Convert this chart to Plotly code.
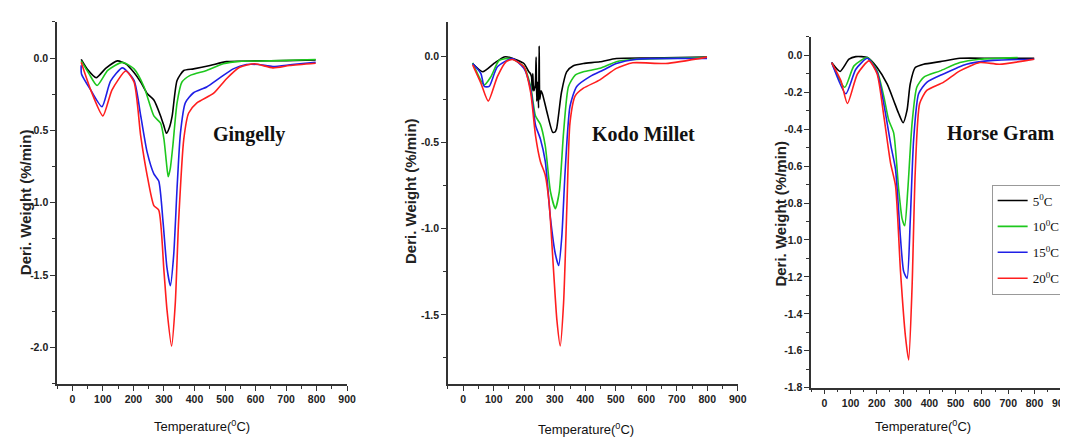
import plotly.graph_objects as go

W, H = 1068, 437

# ---------------- DATA ----------------
series_names = ["5<sup>0</sup>C", "10<sup>0</sup>C", "15<sup>0</sup>C", "20<sup>0</sup>C"]
series_colors = ["#000000", "#1ec81e", "#1f1fe6", "#ff1e1e"]

# Gingelly
g_t_5 = [29, 50, 78, 110, 148, 175, 202, 225, 245, 267, 289, 300, 308, 318, 327, 343, 365, 397, 451, 505, 600, 700, 797]
g_v_5 = [-0.01, -0.08, -0.136, -0.07, -0.02, -0.04, -0.10, -0.17, -0.245, -0.29, -0.40, -0.47, -0.52, -0.48, -0.40, -0.155, -0.086, -0.075, -0.052, -0.025, -0.02, -0.018, -0.014]
g_t_10 = [29, 55, 81, 116, 164, 202, 235, 267, 289, 300, 308, 314, 321, 329, 343, 359, 386, 440, 494, 548, 650, 797]
g_v_10 = [-0.02, -0.11, -0.19, -0.086, -0.03, -0.075, -0.20, -0.40, -0.45, -0.56, -0.72, -0.82, -0.76, -0.61, -0.31, -0.166, -0.12, -0.086, -0.04, -0.023, -0.02, -0.01]
g_t_15 = [29, 30, 60, 97, 125, 164, 202, 224, 245, 267, 283, 297, 310, 321, 332, 343, 354, 370, 397, 440, 484, 527, 570, 610, 657, 720, 797]
g_v_15 = [-0.05, -0.11, -0.22, -0.336, -0.16, -0.068, -0.155, -0.40, -0.65, -0.80, -0.85, -1.13, -1.45, -1.573, -1.36, -0.90, -0.52, -0.31, -0.24, -0.20, -0.136, -0.075, -0.045, -0.045, -0.059, -0.045, -0.03]
g_t_20 = [29, 60, 100, 130, 175, 202, 224, 245, 267, 283, 300, 310, 325, 337, 348, 365, 381, 408, 462, 505, 548, 597, 657, 711, 797]
g_v_20 = [-0.03, -0.22, -0.40, -0.22, -0.09, -0.166, -0.54, -0.81, -1.02, -1.05, -1.47, -1.74, -1.99, -1.70, -1.13, -0.56, -0.38, -0.31, -0.245, -0.143, -0.064, -0.04, -0.068, -0.052, -0.036]

# Kodo Millet
k_t_5 = [31, 64, 102, 134, 156, 199, 215, 220, 224, 226, 228, 231, 236, 239, 241, 244, 247, 249, 251, 255, 260, 274, 293, 300, 306, 322, 339, 361, 394, 448, 502, 610, 799]
k_v_5 = [-0.042, -0.09, -0.04, -0.004, -0.008, -0.042, -0.09, -0.10, -0.12, -0.20, -0.10, -0.20, -0.17, -0.005, -0.26, -0.15, -0.30, 0.06, -0.25, -0.20, -0.22, -0.32, -0.44, -0.44, -0.42, -0.21, -0.09, -0.055, -0.042, -0.032, -0.013, -0.01, -0.004]
k_t_10 = [31, 69, 91, 118, 156, 199, 221, 237, 253, 269, 286, 302, 315, 329, 345, 367, 394, 448, 502, 556, 799]
k_v_10 = [-0.038, -0.166, -0.118, -0.023, -0.013, -0.061, -0.175, -0.347, -0.395, -0.52, -0.785, -0.884, -0.785, -0.44, -0.175, -0.109, -0.09, -0.07, -0.032, -0.019, -0.008]
k_t_15 = [31, 58, 69, 85, 112, 161, 199, 221, 237, 253, 269, 286, 302, 313, 323, 334, 350, 372, 415, 459, 502, 567, 799]
k_v_15 = [-0.042, -0.10, -0.175, -0.175, -0.061, -0.013, -0.07, -0.19, -0.40, -0.48, -0.61, -0.94, -1.147, -1.214, -1.05, -0.67, -0.29, -0.175, -0.118, -0.08, -0.042, -0.017, -0.013]
k_t_20 = [31, 58, 82, 112, 140, 161, 199, 221, 237, 253, 269, 282, 296, 307, 318, 329, 340, 350, 367, 394, 448, 502, 556, 664, 799]
k_v_20 = [-0.05, -0.156, -0.26, -0.118, -0.032, -0.019, -0.061, -0.21, -0.46, -0.61, -0.69, -0.86, -1.24, -1.53, -1.68, -1.43, -0.86, -0.385, -0.23, -0.185, -0.137, -0.07, -0.038, -0.042, -0.005]

# Horse Gram
h_t_5 = [28, 60, 94, 120, 164, 201, 239, 264, 283, 300, 315, 327, 346, 378, 441, 516, 642, 799]
h_v_5 = [-0.039, -0.087, -0.021, -0.007, -0.012, -0.066, -0.155, -0.244, -0.315, -0.365, -0.297, -0.155, -0.066, -0.048, -0.034, -0.016, -0.016, -0.016]
h_t_10 = [28, 78, 113, 164, 201, 227, 245, 264, 283, 296, 306, 318, 334, 352, 378, 441, 516, 592, 736]
h_v_10 = [-0.039, -0.173, -0.057, -0.012, -0.084, -0.226, -0.35, -0.42, -0.724, -0.884, -0.923, -0.724, -0.368, -0.173, -0.119, -0.084, -0.039, -0.021, -0.012]
h_t_15 = [28, 82, 120, 164, 201, 233, 254, 271, 290, 302, 315, 327, 340, 359, 390, 453, 541, 642, 799]
h_v_15 = [-0.039, -0.208, -0.075, -0.016, -0.092, -0.315, -0.493, -0.617, -0.99, -1.17, -1.208, -0.90, -0.457, -0.208, -0.146, -0.101, -0.048, -0.027, -0.021]
h_t_20 = [28, 63, 88, 126, 170, 201, 227, 252, 271, 290, 309, 321, 334, 346, 363, 390, 453, 516, 592, 667, 799]
h_v_20 = [-0.039, -0.137, -0.261, -0.101, -0.03, -0.101, -0.333, -0.582, -0.706, -1.17, -1.524, -1.649, -1.257, -0.635, -0.261, -0.19, -0.146, -0.084, -0.039, -0.048, -0.021]

panel_titles = ["Gingelly", "Kodo Millet", "Horse Gram"]
x_ticks = [0, 100, 200, 300, 400, 500, 600, 700, 800, 900]
x_tick_labels = ["0", "100", "200", "300", "400", "500", "600", "700", "800", "900"]
y_ticks_g = [0.0, -0.5, -1.0, -1.5, -2.0]
y_labels_g = ["0.0", "-0.5", "-1.0", "-1.5", "-2.0"]
y_ticks_k = [0.0, -0.5, -1.0, -1.5]
y_labels_k = ["0.0", "-0.5", "-1.0", "-1.5"]
y_ticks_h = [0.0, -0.2, -0.4, -0.6, -0.8, -1.0, -1.2, -1.4, -1.6, -1.8]
y_labels_h = ["0.0", "-0.2", "-0.4", "-0.6", "-0.8", "-1.0", "-1.2", "-1.4", "-1.6", "-1.8"]
y_title = "Deri. Weight (%/min)"
x_title = "Temperature(<sup>0</sup>C)"

panels = [
    [(g_t_5, g_v_5), (g_t_10, g_v_10), (g_t_15, g_v_15), (g_t_20, g_v_20)],
    [(k_t_5, k_v_5), (k_t_10, k_v_10), (k_t_15, k_v_15), (k_t_20, k_v_20)],
    [(h_t_5, h_v_5), (h_t_10, h_v_10), (h_t_15, h_v_15), (h_t_20, h_v_20)],
]

# ---------------- LAYOUT ----------------
def px_x(p):
    return p / W

def px_y(p):
    return 1 - p / H

x_domains = [[px_x(49.5), px_x(342)], [px_x(443.7), px_x(736)], [px_x(810), px_x(1061.7)]]
y_domains = [[px_y(381), px_y(14)], [px_y(381), px_y(14)], [px_y(385), px_y(29.3)]]
x_ranges = [[-50, 900], [-50, 900], [-50, 900]]
y_ranges = [[-2.25, 0.25], [-1.9, 0.2], [-1.8, 0.1]]
y_tick_sets = [(y_ticks_g, y_labels_g), (y_ticks_k, y_labels_k), (y_ticks_h, y_labels_h)]
y_minor = [0.25, 0.25, 0.1]

SANS = "Liberation Sans, Arial, sans-serif"
SERIF = "Liberation Serif, Times New Roman, serif"

fig = go.Figure()

tick_font = dict(family=SANS, size=10.5, color="#222222", weight="bold")

for i, panel in enumerate(panels):
    xa = "x" if i == 0 else f"x{i+1}"
    ya = "y" if i == 0 else f"y{i+1}"
    for j, (t, v) in enumerate(panel):
        fig.add_trace(go.Scatter(
            x=t, y=v, mode="lines", xaxis=xa, yaxis=ya,
            line=dict(color=series_colors[j], width=1.6, shape="spline", smoothing=0.6),
            name=series_names[j], legendgroup=f"g{j}",
            showlegend=(i == 2), hoverinfo="skip"))

    axis_common = dict(showline=True, linecolor="#333333", linewidth=1.5, showgrid=False,
                       zeroline=False, ticks="outside", ticklen=5, tickwidth=1.2,
                       tickcolor="#333333", tickfont=tick_font)
    xkey = "xaxis" if i == 0 else f"xaxis{i+1}"
    ykey = "yaxis" if i == 0 else f"yaxis{i+1}"
    yt, yl = y_tick_sets[i]
    fig.update_layout(**{
        xkey: dict(domain=x_domains[i], range=x_ranges[i], anchor=ya,
                   tickvals=x_ticks, ticktext=x_tick_labels,
                   minor=dict(dtick=50, tick0=0, ticks="outside", ticklen=3, tickcolor="#333333"),
                   **axis_common),
        ykey: dict(domain=y_domains[i], range=y_ranges[i], anchor=xa,
                   tickvals=yt, ticktext=yl,
                   minor=dict(dtick=y_minor[i], tick0=0, ticks="outside", ticklen=3, tickcolor="#333333"),
                   **axis_common),
    })

annotations = []
title_pos = [(243, 128), (641, 128), (1001, 127)]
for i, (cx, cy) in enumerate(title_pos):
    annotations.append(dict(x=px_x(cx), y=px_y(cy), xref="paper", yref="paper", text=f"<b>{panel_titles[i]}</b>",
                            showarrow=False, xanchor="center", yanchor="middle",
                            font=dict(family=SERIF, size=20, color="#111111")))
ytitle_pos = [(17, 197), (406, 186), (779, 208)]
for (cx, cy) in ytitle_pos:
    annotations.append(dict(x=px_x(cx), y=px_y(cy), xref="paper", yref="paper", text=f"<b>{y_title}</b>",
                            showarrow=False, textangle=-90, xanchor="center", yanchor="middle",
                            font=dict(family=SANS, size=15, color="#222222")))
xtitle_pos = [(196, 424), (583, 427), (923, 424)]
for (cx, cy) in xtitle_pos:
    annotations.append(dict(x=px_x(cx), y=px_y(cy), xref="paper", yref="paper", text=x_title,
                            showarrow=False, xanchor="center", yanchor="middle",
                            font=dict(family=SANS, size=13, color="#111111")))

fig.update_layout(
    width=W, height=H, margin=dict(l=0, r=0, t=0, b=0),
    paper_bgcolor="white", plot_bgcolor="white",
    annotations=annotations,
    legend=dict(x=px_x(992), y=px_y(179), xanchor="left", yanchor="top",
                bordercolor="#999999", borderwidth=1, bgcolor="white",
                font=dict(family=SERIF, size=13, color="#111111"),
                tracegroupgap=6, itemwidth=30, traceorder="grouped"),
)

fig.write_html("out.html")
